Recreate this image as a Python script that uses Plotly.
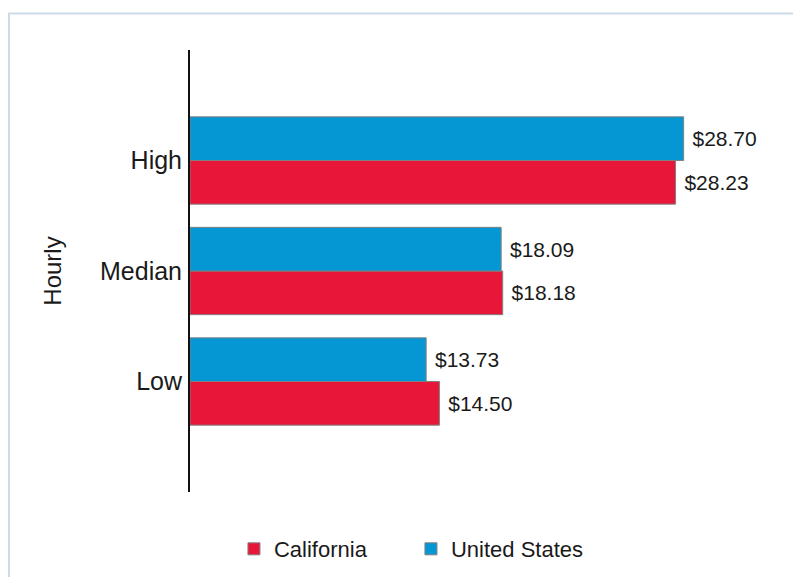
import plotly.graph_objects as go

categories = ["High", "Median", "Low"]
california = [28.23, 18.18, 14.50]
united_states = [28.70, 18.09, 13.73]
series_names = ["California", "United States"]
colors = ["#e8173a", "#0596d4"]

FONT = "Liberation Sans, Arial"

def fmt(vals):
    return [" $%.2f" % v for v in vals]

fig = go.Figure()
for name, vals, col in [(series_names[0], california, colors[0]),
                        (series_names[1], united_states, colors[1])]:
    fig.add_trace(go.Bar(
        y=categories, x=vals, orientation="h", name=name,
        marker=dict(color=col, line=dict(color="#808080", width=1)),
        text=fmt(vals), textposition="outside", cliponaxis=False,
        textfont=dict(family=FONT, size=21, color="#1a1a1a"),
    ))

fig.update_layout(
    width=785, height=569,
    margin=dict(l=182, r=1, t=42, b=85),
    paper_bgcolor="white", plot_bgcolor="white",
    barmode="group", bargap=0.21, bargroupgap=0,
    font=dict(family=FONT, color="#1a1a1a"),
    showlegend=True,
    legend=dict(orientation="h", x=0.073, xanchor="left", y=-0.129, yanchor="middle",
                font=dict(size=22), traceorder="normal", itemwidth=30,
                entrywidth=132, entrywidthmode="pixels"),
    xaxis=dict(range=[0, 35], showticklabels=False, showgrid=False, zeroline=False,
               showline=False, fixedrange=True),
    yaxis=dict(categoryorder="array", categoryarray=categories[::-1], range=[-1, 3],
               showgrid=False, zeroline=False, showline=True, linecolor="#111111",
               linewidth=2, ticks="", ticklabelstandoff=1,
               tickfont=dict(size=25),
               title=dict(text="Hourly", font=dict(size=24), standoff=32)),
    shapes=[dict(type="rect", xref="paper", yref="paper",
                 x0=-0.3007, x1=1.1, y0=-0.4, y1=1.0826,
                 line=dict(color="#cddbe9", width=2), fillcolor="rgba(0,0,0,0)",
                 layer="below")],
)

fig.write_html("out.html")
